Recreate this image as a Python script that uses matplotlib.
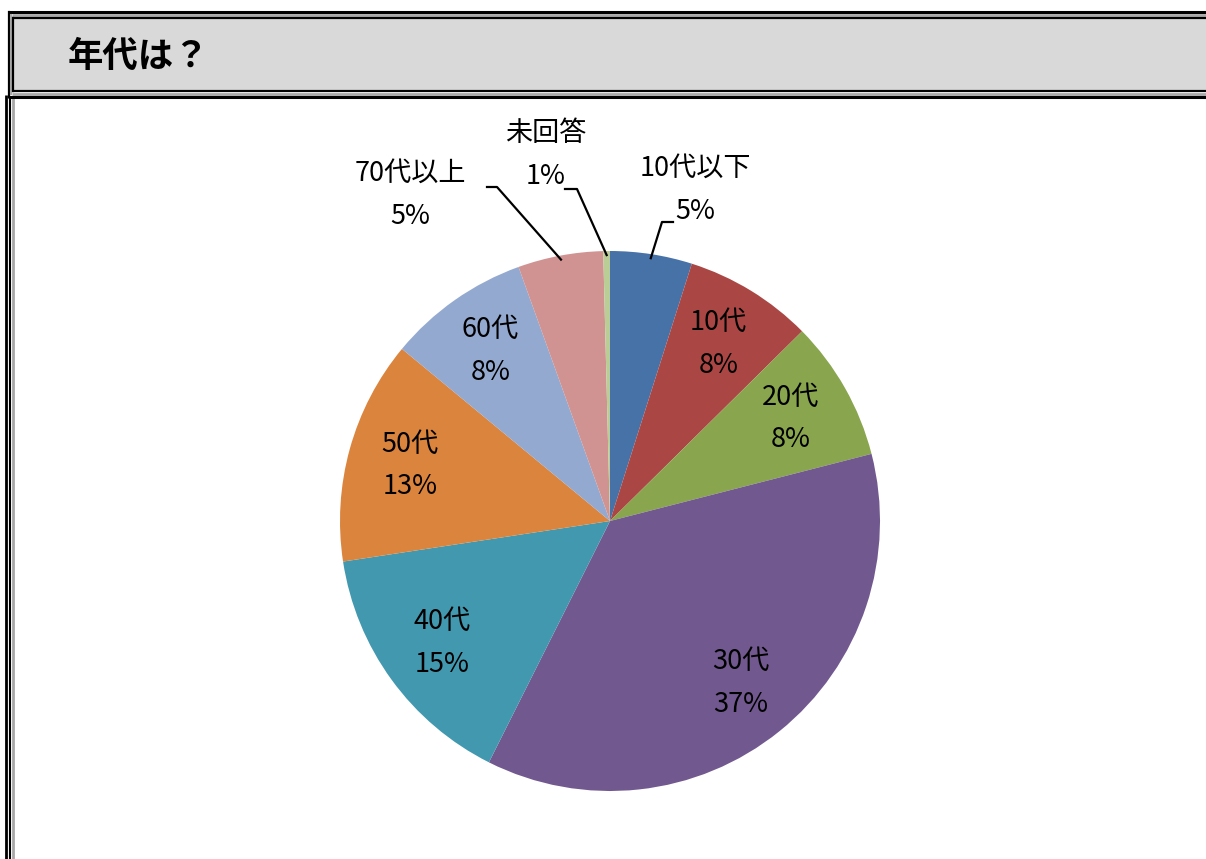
import matplotlib
matplotlib.use("Agg")
import matplotlib.pyplot as plt
import numpy as np
from matplotlib.patches import Rectangle

plt.rcParams['font.family'] = ['Noto Sans CJK JP', 'DejaVu Sans']

title = "年代は？"
categories = ["10代以下", "10代", "20代", "30代", "40代", "50代", "60代", "70代以上", "未回答"]
values = [4.9, 7.7, 8.4, 36.4, 15.2, 13.4, 8.5, 5.1, 0.4]
pct_labels = ["5%", "8%", "8%", "37%", "15%", "13%", "8%", "5%", "1%"]
colors = ["#4672A8", "#AA4744", "#89A54E", "#71588F", "#4298AF",
          "#DB843D", "#93A9D0", "#D09392", "#BACD96"]
outside = {"10代以下", "70代以上", "未回答"}

W, H = 1206, 859
fig = plt.figure(figsize=(W / 100, H / 100), dpi=100)
ax = fig.add_axes([0, 0, 1, 1])
ax.set_xlim(0, W)
ax.set_ylim(0, H)
ax.axis("off")

def yp(y):
    return H - y

# header box
ax.add_patch(Rectangle((13, yp(92)), W - 13, 75, facecolor="#d9d9d9", edgecolor="none", zorder=1))
for (y, c, lw) in [(12, "black", 2.2), (15, "#a8a8a8", 2.0), (17.5, "black", 1.6),
                   (91, "black", 1.6), (94, "#a8a8a8", 2.0), (97, "black", 2.2)]:
    ax.plot([8 if c == "black" and y in (12, 97) else 12, W], [yp(y), yp(y)], color=c, lw=lw, solid_capstyle="butt", zorder=3)
ax.plot([8.5, 8.5], [yp(12), yp(97)], color="black", lw=1.6, zorder=3)
ax.plot([10.5, 10.5], [yp(15), yp(94)], color="#a8a8a8", lw=1.5, zorder=3)
ax.plot([12.5, 12.5], [yp(17.5), yp(91)], color="black", lw=1.6, zorder=3)
# left frame below header
ax.plot([6, 6], [yp(95), 0], color="black", lw=2.0, solid_capstyle="butt")
ax.plot([10, 10], [yp(98), 0], color="black", lw=1.5, solid_capstyle="butt")
ax.plot([12.8, 12.8], [yp(98), 0], color="#a8a8a8", lw=2.0, solid_capstyle="butt")

ax.text(68, yp(56), title, fontsize=25.5, fontweight="bold", ha="left", va="center", zorder=4)

FS = 19.5
LS = 1.75

# pie
cx, cy, R = 610, yp(521), 270
inside_labels = [f"{c}\n{p}" if c not in outside else "" for c, p in zip(categories, pct_labels)]
wedges, texts = ax.pie(values, colors=colors, startangle=90, counterclock=False,
                       center=(cx, cy), radius=R, labels=inside_labels, labeldistance=0.77,
                       wedgeprops=dict(linewidth=0),
                       textprops=dict(fontsize=FS, ha="center", va="center", linespacing=LS))
ax.set_xlim(0, W)
ax.set_ylim(0, H)
ax.set_aspect("auto")

# outside labels with leader lines
ext = {
    "10代以下": dict(text=(695, 190), elbow=[(662, 222), (673, 222)]),
    "70代以上": dict(text=(410, 195), elbow=[(497, 187), (487, 187)]),
    "未回答": dict(text=(546, 155), elbow=[(577, 189), (565, 189)]),
}
for w, c, p in zip(wedges, categories, pct_labels):
    if c not in ext:
        continue
    mid = np.deg2rad((w.theta1 + w.theta2) / 2)
    ax0 = cx + R * 0.985 * np.cos(mid)
    ay0 = cy + R * 0.985 * np.sin(mid)
    pts = [(ax0, ay0)] + [(x, yp(y)) for x, y in ext[c]["elbow"]]
    ax.plot([q[0] for q in pts], [q[1] for q in pts], color="black", lw=1.6, zorder=5)
    tx, ty = ext[c]["text"]
    ax.text(tx, yp(ty), f"{c}\n{p}", fontsize=FS, ha="center", va="center", linespacing=LS)

fig.savefig("out.png", dpi=100, facecolor="white")
